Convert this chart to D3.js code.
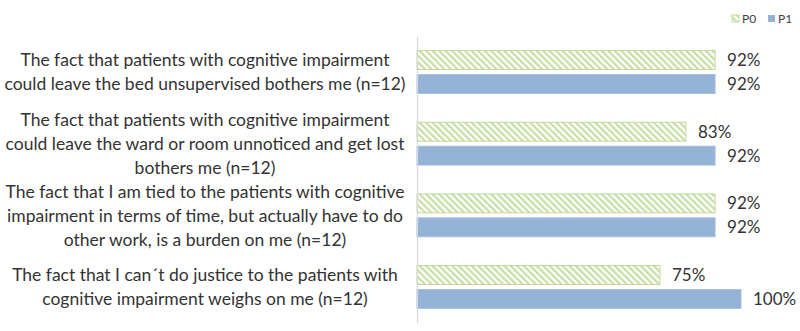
<!DOCTYPE html>
<html>
<head>
<meta charset="utf-8">
<script src="https://cdn.jsdelivr.net/npm/d3@7"></script>
<style>
  html, body { margin: 0; padding: 0; background: #fff; }
  svg { display: block; font-family: Lato, "Open Sans", sans-serif; }
</style>
</head>
<body>
<svg id="chart" width="800" height="331"></svg>
<script>
// ---- data ----
const categories = [
  "The fact that patients with cognitive impairment\ncould leave the bed unsupervised bothers me (n=12)",
  "The fact that patients with cognitive impairment\ncould leave the ward or room unnoticed and get lost\nbothers me (n=12)",
  "The fact that I am tied to the patients with cognitive\nimpairment in terms of time, but actually have to do\nother work, is a burden on me (n=12)",
  "The fact that I can\u00b4t do justice to the patients with\ncognitive impairment weighs on me (n=12)"
];
const seriesNames = ["P0", "P1"];
const p0Values = [92, 83, 92, 75];
const p1Values = [92, 92, 92, 100];

// ---- layout ----
const plot = { left: 417, right: 741, top: 36.2, bottom: 322.8 };
const svg = d3.select("#chart");

const defs = svg.append("defs");
const pat = defs.append("pattern")
  .attr("id", "hatch")
  .attr("patternUnits", "userSpaceOnUse")
  .attr("width", 4.6).attr("height", 4.6)
  .attr("patternTransform", "rotate(-45)");
pat.append("rect").attr("width", 4.6).attr("height", 4.6).attr("fill", "#ffffff");
pat.append("rect").attr("x", 0).attr("y", 0).attr("width", 2.3).attr("height", 4.6).attr("fill", "#c9dfa6");

const x = d3.scaleLinear().domain([0, 100]).range([plot.left, plot.right]);
const y = d3.scaleBand().domain(categories).range([plot.top, plot.bottom]).paddingInner(0).paddingOuter(0);
const yInner = d3.scaleBand().domain(seriesNames).range([0, y.bandwidth()]).paddingInner(0.21).paddingOuter(0.6);

const data = categories.map((c, i) => ({ cat: c, values: [
  { s: "P0", v: p0Values[i] }, { s: "P1", v: p1Values[i] }
]}));

const fills = { P0: "url(#hatch)", P1: "#95b3d7" };
const strokes = { P0: "#c3d99e", P1: "#a7c0df" };

const g = svg.append("g");
const groups = g.selectAll("g.grp").data(data).join("g")
  .attr("class", "grp")
  .attr("transform", d => `translate(0,${y(d.cat)})`);

groups.selectAll("rect").data(d => d.values).join("rect")
  .attr("x", x(0))
  .attr("y", d => yInner(d.s))
  .attr("width", d => x(d.v) - x(0))
  .attr("height", yInner.bandwidth())
  .attr("fill", d => fills[d.s])
  .attr("stroke", d => strokes[d.s])
  .attr("stroke-width", 1);

groups.selectAll("text.val").data(d => d.values).join("text")
  .attr("class", "val")
  .attr("x", d => x(d.v) + 12)
  .attr("y", d => yInner(d.s) + yInner.bandwidth() / 2)
  .attr("dy", "0.36em")
  .attr("font-size", 17)
  .attr("fill", "#333333")
  .text(d => d.v + "%");

// axis line (category axis)
const yAxis = d3.axisLeft(y).tickSize(0).tickFormat("");
const ax = svg.append("g").attr("transform", `translate(${x(0)},0)`).call(yAxis);
ax.select(".domain").attr("stroke", "#d9d9d9").attr("stroke-width", 1.2);

// category labels
const lineH = 24;
svg.append("g").selectAll("text.cat").data(categories).join("text")
  .attr("class", "cat")
  .attr("text-anchor", "middle")
  .attr("font-size", 17.5)
  .attr("fill", "#333333")
  .each(function(d) {
    const lines = d.split("\n");
    const cy = y(d) + y.bandwidth() / 2;
    const t = d3.select(this);
    lines.forEach((ln, k) => {
      t.append("tspan")
        .attr("x", 205)
        .attr("y", cy + (k - (lines.length - 1) / 2) * lineH)
        .attr("dy", "0.36em")
        .text(ln);
    });
  });

// legend
const legend = svg.append("g").attr("transform", "translate(732,18.5)");
const legItems = [
  { s: "P0", x: 0 },
  { s: "P1", x: 36 }
];
legItems.forEach(it => {
  legend.append("rect")
    .attr("x", it.x).attr("y", -3.5).attr("width", 7).attr("height", 7)
    .attr("fill", fills[it.s]).attr("stroke", it.s === "P0" ? "#c3d99e" : "none");
  legend.append("text")
    .attr("x", it.x + 10).attr("y", 0).attr("dy", "0.36em")
    .attr("font-size", 12).attr("fill", "#404040")
    .text(it.s);
});
</script>
</body>
</html>
